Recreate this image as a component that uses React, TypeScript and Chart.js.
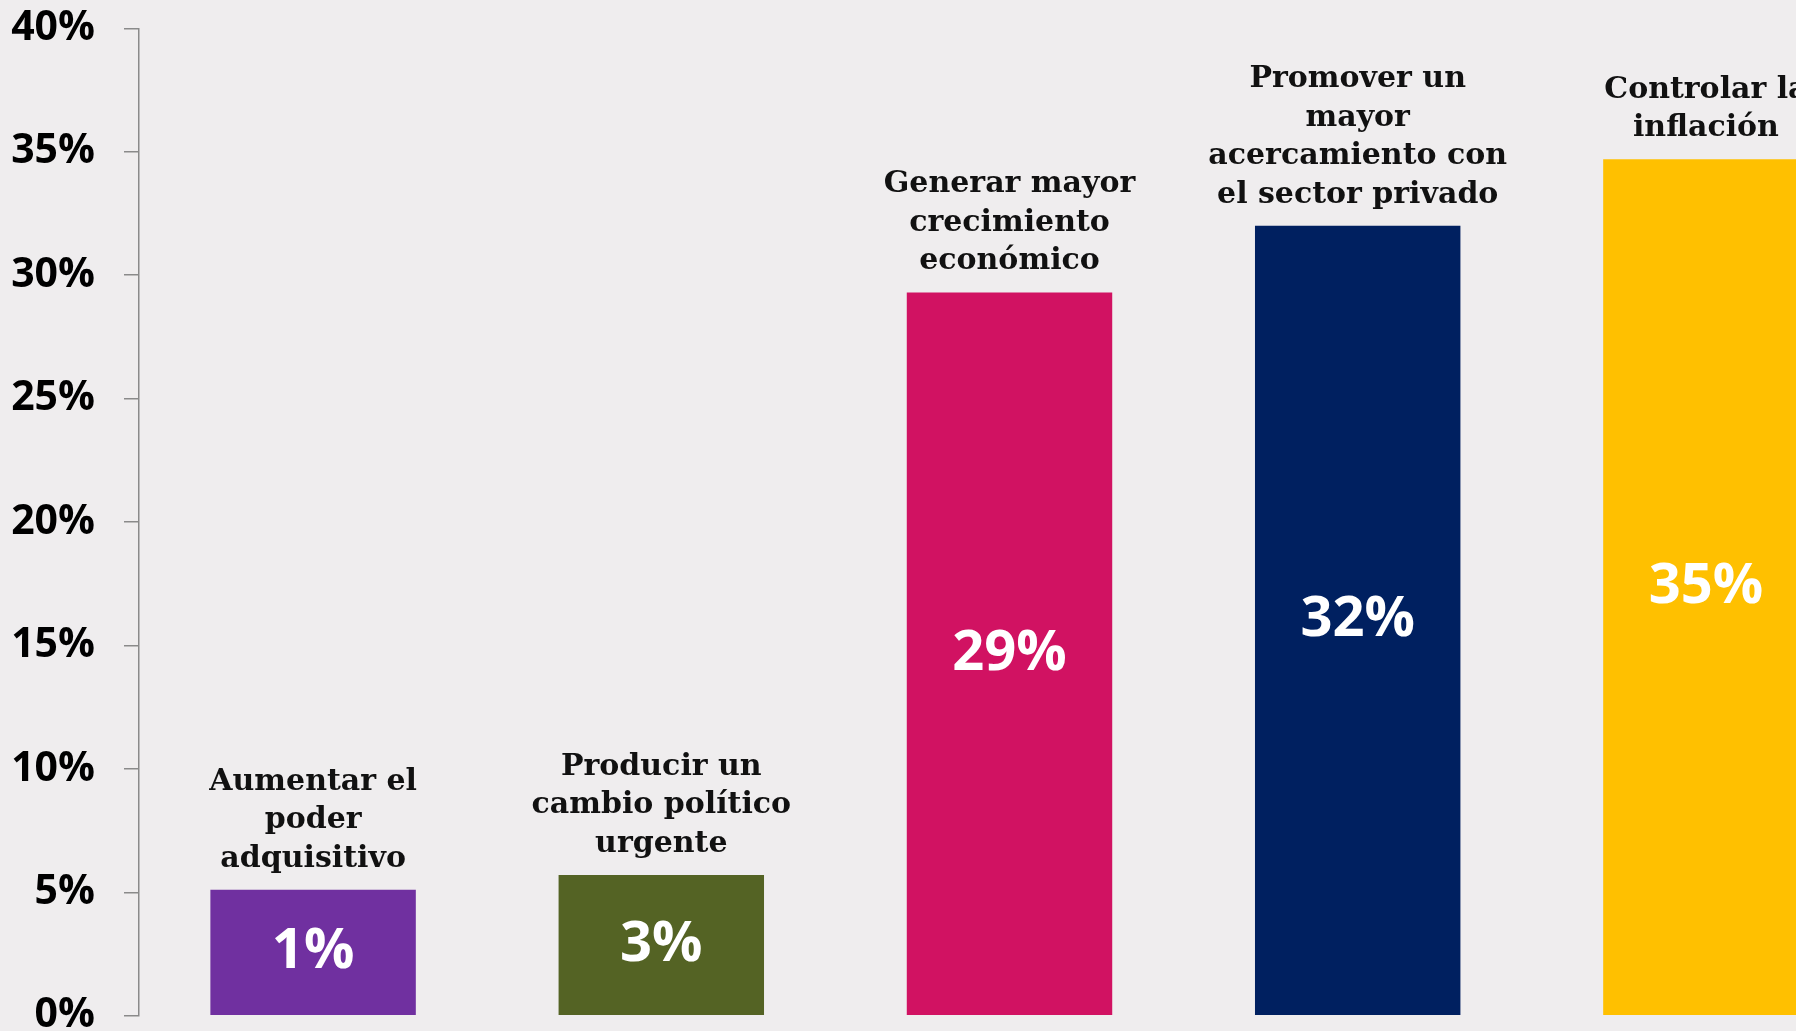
import React, { useEffect, useRef } from "react";
import { Chart, registerables } from "chart.js";

Chart.register(...registerables);

const categories: string[][] = [
  ["Aumentar el", "poder", "adquisitivo"],
  ["Producir un", "cambio político", "urgente"],
  ["Generar mayor", "crecimiento", "económico"],
  ["Promover un", "mayor", "acercamiento con", "el sector privado"],
  ["Controlar la", "inflación"],
];
const barValues = [5.1, 5.7, 29.3, 32.0, 34.7];
const valueLabels = ["1%", "3%", "29%", "32%", "35%"];
const barColors = ["#7030A0", "#546324", "#D11262", "#002060", "#FFC000"];
const yMin = 0;
const yMax = 40;
const yStep = 5;

const BG = "#EFEDEE";

const labelPlugin = {
  id: "barLabels",
  afterDatasetsDraw(chart: any) {
    const ctx = chart.ctx;
    const meta = chart.getDatasetMeta(0);
    ctx.save();
    meta.data.forEach((bar: any, i: number) => {
      const { x, y, base } = bar.getProps(["x", "y", "base"], true);
      const lines = categories[i];
      ctx.font = 'bold 30px "DejaVu Serif"';
      ctx.fillStyle = "#111111";
      ctx.textAlign = "center";
      ctx.textBaseline = "alphabetic";
      lines.forEach((ln, j) => {
        ctx.fillText(ln, x, y - 23 - (lines.length - 1 - j) * 38.5);
      });
      ctx.font = 'bold 56px "Open Sans"';
      ctx.fillStyle = "#FFFFFF";
      ctx.textBaseline = "middle";
      ctx.fillText(valueLabels[i], x, (y + base) / 2);
    });
    ctx.restore();
  },
};

export default function App() {
  const ref = useRef<HTMLCanvasElement | null>(null);
  useEffect(() => {
    if (!ref.current) return;
    const chart = new Chart(ref.current, {
      type: "bar",
      data: {
        labels: categories.map((c) => c.join(" ")),
        datasets: [
          {
            data: barValues,
            backgroundColor: barColors,
            borderWidth: 0,
            categoryPercentage: 1,
            barPercentage: 0.59,
          },
        ],
      },
      options: {
        responsive: false,
        animation: false,
        devicePixelRatio: 1,
        layout: { padding: 0 },
        plugins: {
          legend: { display: false },
          tooltip: { enabled: false },
          title: { display: false },
        },
        scales: {
          x: {
            display: false,
          },
          y: {
            min: yMin,
            max: yMax,
            ticks: {
              stepSize: yStep,
              padding: 29,
              color: "#000000",
              font: { family: '"Open Sans"', weight: "bold", size: 41, lineHeight: 0.6 },
              callback: (v: any) => `${v}%`,
            },
            grid: {
              drawOnChartArea: false,
              drawTicks: true,
              tickLength: 15,
              color: "#8A8A8A",
              lineWidth: 1.5,
            },
            border: { display: true, color: "#8A8A8A", width: 1.5 },
            afterFit: (scale: any) => {
              scale.width = 139;
            },
          },
        },
      },
      plugins: [labelPlugin],
    });
    return () => chart.destroy();
  }, []);
  return (
    <div
      style={{
        position: "fixed",
        left: 0,
        top: 0,
        width: 1796,
        height: 1031,
        overflow: "hidden",
        background: BG,
      }}
    >
      <canvas
        ref={ref}
        width={1880}
        height={1070}
        style={{ width: 1880, height: 1070, display: "block", position: "absolute", left: 0, top: -13 }}
      />
    </div>
  );
}
